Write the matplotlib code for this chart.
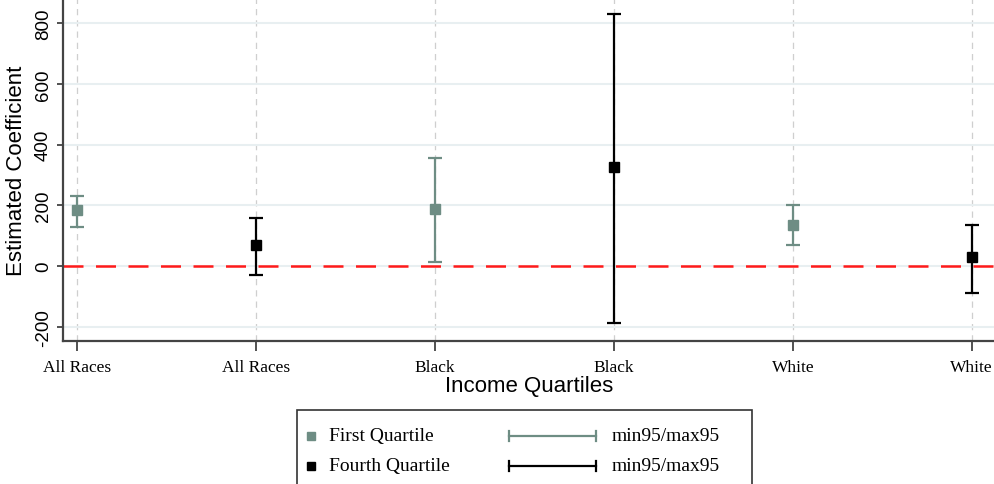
import numpy as np
import matplotlib.pyplot as plt
from matplotlib.lines import Line2D
from matplotlib.patches import Rectangle

# data
x_labels = ["All Races", "All Races", "Black", "Black", "White", "White"]
q1_pos = [1, 3, 5]
q1_coef = [184, 187, 134]
q1_lo = [128, 13, 69]
q1_hi = [230, 357, 200]
q4_pos = [2, 4, 6]
q4_coef = [69, 325, 30]
q4_lo = [-30, -187, -89]
q4_hi = [157, 830, 134]
y_ticks = [-200, 0, 200, 400, 600, 800]

green = "#6e8d84"
serif = "Liberation Serif"
sans = "Liberation Sans"

fig = plt.figure(figsize=(9.94, 4.85), dpi=100)
ax = fig.add_axes([63 / 994, 143 / 485, 932 / 994, 342 / 485])

for xv in range(1, 7):
    ax.axvline(xv, color="#cfcfcf", lw=0.9, ls=(0, (5, 4)), zorder=0)
for yv in y_ticks:
    ax.axhline(yv, color="#e8eff1", lw=1.5, zorder=0)
ax.axhline(0, color="#ff1a1a", lw=1.8, ls=(0, (8, 5)), zorder=1)

def draw(pos, coef, lo, hi, color):
    coef = np.array(coef)
    err = [coef - np.array(lo), np.array(hi) - coef]
    ax.errorbar(pos, coef, yerr=err, fmt="s", color=color, ecolor=color,
                elinewidth=1.6, capsize=5, capthick=1.6, markersize=7.5, zorder=3)

draw(q1_pos, q1_coef, q1_lo, q1_hi, green)
draw(q4_pos, q4_coef, q4_lo, q4_hi, "black")

ax.set_xlim(0.92, 6.13)
ax.set_ylim(-246, 879)
ax.set_xticks(range(1, 7))
ax.set_xticklabels(x_labels, fontfamily=serif, fontsize=12.5)
ax.set_yticks(y_ticks)
ax.set_yticklabels([str(v) for v in y_ticks], rotation=90, va="center",
                   fontfamily=sans, fontsize=13.5)
ax.tick_params(axis="x", length=7, width=1.2, color="#333333", pad=6)
ax.tick_params(axis="y", length=4, width=1.2, color="#333333", pad=4)
for s in ["top", "right"]:
    ax.spines[s].set_visible(False)
for s in ["left", "bottom"]:
    ax.spines[s].set_color("#444444")
    ax.spines[s].set_linewidth(1.6)

ax.set_xlabel("Income Quartiles", fontfamily=sans, fontsize=16, labelpad=0)
ax.set_ylabel("Estimated Coefficient", fontfamily=sans, fontsize=16)
ax.yaxis.set_label_coords(-0.039, 0.5)

# legend drawn by hand in figure pixels
def fx(px):
    return px / 994

def fy(py):
    return 1 - py / 485

fig.patches.append(Rectangle((fx(297), fy(500)), fx(752) - fx(297), fy(411) - fy(500),
                             transform=fig.transFigure, fill=False, ec="#333333", lw=1.2))
rows = [(437, green, "First Quartile"), (467, "black", "Fourth Quartile")]
for py, col, lab in rows:
    fig.add_artist(Line2D([fx(311)], [fy(py)], marker="s", color=col, markersize=6,
                          transform=fig.transFigure))
    fig.text(fx(329), fy(py), lab, fontfamily=serif, fontsize=14, va="center")
    fig.add_artist(Line2D([fx(509), fx(596)], [fy(py), fy(py)], color=col, lw=1.6,
                          transform=fig.transFigure))
    for ex in (509, 596):
        fig.add_artist(Line2D([fx(ex), fx(ex)], [fy(py - 5), fy(py + 5)], color=col, lw=1.6,
                              transform=fig.transFigure))
    fig.text(fx(612), fy(py), "min95/max95", fontfamily=serif, fontsize=14, va="center")

fig.savefig("out.png", dpi=100)
